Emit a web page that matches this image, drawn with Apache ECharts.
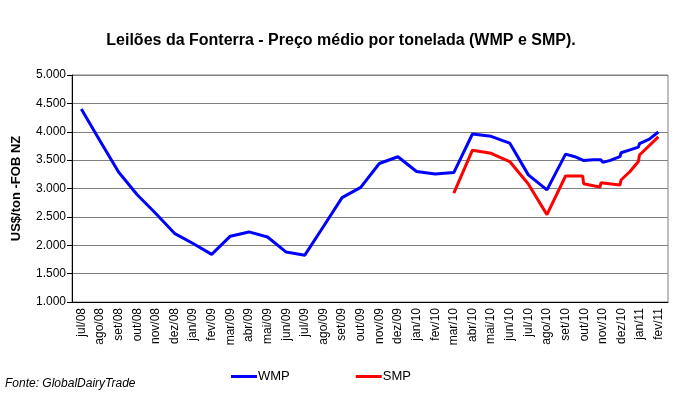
<!DOCTYPE html>
<html>
<head>
<meta charset="utf-8">
<script src="https://cdn.jsdelivr.net/npm/echarts@6/dist/echarts.min.js"></script>
<style>
    html, body { margin: 0; padding: 0; background: #fff; }
    #chart { width: 682px; height: 398px; }
</style>
</head>
<body>
<div id="chart"></div>
<script>
// Month labels (category axis)
var months = ['jul/08', 'ago/08', 'set/08', 'out/08', 'nov/08', 'dez/08',
    'jan/09', 'fev/09', 'mar/09', 'abr/09', 'mai/09', 'jun/09', 'jul/09',
    'ago/09', 'set/09', 'out/09', 'nov/09', 'dez/09', 'jan/10', 'fev/10',
    'mar/10', 'abr/10', 'mai/10', 'jun/10', 'jul/10', 'ago/10', 'set/10',
    'out/10', 'nov/10', 'dez/10', 'jan/11', 'fev/11'];

// Auction time, in months since start of jul/08 (x.5 = middle of month)
var wmpTime = [0.5, 1.5, 2.5, 3.5, 4.5, 5.5, 6.5, 7.5, 8.5, 9.5, 10.5, 11.5,
    12.5, 13.5, 14.5, 15.5, 16.5, 17.5, 18.5, 19.5, 20.5, 21.5, 22.5, 23.5,
    24.5, 25.5, 26.5, 27.0, 27.45, 28.0, 28.4, 28.5, 28.9, 29.42, 29.48,
    29.96, 30.41, 30.47, 31.0, 31.48];
var wmpPrice = [4400, 3840, 3290, 2890, 2560, 2210, 2030, 1840, 2160, 2235,
    2145, 1880, 1825, 2330, 2840, 3020, 3440, 3560, 3300, 3255, 3280, 3960,
    3920, 3800, 3240, 2975, 3605, 3560, 3495, 3505, 3505, 3460, 3495, 3560,
    3630, 3680, 3730, 3790, 3870, 3995];

var smpTime = [20.5, 21.5, 22.5, 23.5, 24.5, 25.5, 26.5, 27.42, 27.47, 27.99,
    28.35, 28.4, 29.42, 29.48, 29.96, 30.41, 30.47, 31.48];
var smpPrice = [2920, 3675, 3620, 3475, 3080, 2540, 3220, 3220, 3085, 3050,
    3025, 3100, 3060, 3150, 3300, 3475, 3590, 3910];

var yTicks = { min: 1000, max: 5000, step: 500 };

function pairs(t, v) {
    var out = [];
    for (var i = 0; i < t.length; i++) {
        out.push([t[i], v[i]]);
    }
    return out;
}

var font = '"Liberation Sans", Arial, sans-serif';
var chart = echarts.init(document.getElementById('chart'));

chart.setOption({
    animation: false,
    textStyle: { fontFamily: font },
    title: {
        text: 'Leilões da Fonterra - Preço médio por tonelada (WMP e SMP).',
        left: 'center',
        top: 28,
        textStyle: { fontSize: 16, fontWeight: 'bold', color: '#000', fontFamily: font }
    },
    grid: {
        left: 72, right: 14, top: 75, bottom: 96,
        show: true,
        borderColor: '#808080',
        borderWidth: 1
    },
    legend: {
        left: 226,
        top: 365,
        itemGap: 66,
        itemWidth: 26,
        itemHeight: 3,
        icon: 'rect',
        textStyle: { fontSize: 13, color: '#000', padding: [0, 0, 0, -4] },
        data: ['WMP', 'SMP']
    },
    graphic: [{
        type: 'text',
        left: 5,
        top: 378,
        style: {
            text: 'Fonte: GlobalDairyTrade',
            font: 'italic 12px ' + font,
            fill: '#000'
        }
    }],
    xAxis: [{
        type: 'category',
        data: months,
        boundaryGap: true,
        axisLine: { lineStyle: { color: '#000', width: 1 } },
        axisTick: { length: 5, lineStyle: { color: '#000' } },
        axisLabel: { rotate: 90, fontSize: 12, color: '#000', margin: 6, interval: 0 },
        splitLine: { show: false }
    }, {
        type: 'value',
        min: 0,
        max: months.length,
        show: false
    }],
    yAxis: {
        type: 'value',
        min: yTicks.min,
        max: yTicks.max,
        interval: yTicks.step,
        name: 'US$/ton -FOB NZ',
        nameLocation: 'middle',
        nameGap: 49,
        nameTextStyle: { fontSize: 13, fontWeight: 'bold', color: '#000' },
        axisLine: { show: true, lineStyle: { color: '#000' } },
        axisTick: { show: true, length: 5, lineStyle: { color: '#000' } },
        axisLabel: {
            fontSize: 12, color: '#000', margin: 6,
            formatter: function (v) { return (v / 1000).toFixed(3); }
        },
        splitLine: { lineStyle: { color: '#808080', width: 1 } }
    },
    series: [{
        name: 'WMP',
        type: 'line',
        xAxisIndex: 1,
        showSymbol: false,
        color: '#0000ff',
        lineStyle: { width: 3, color: '#0000ff' },
        data: pairs(wmpTime, wmpPrice)
    }, {
        name: 'SMP',
        type: 'line',
        xAxisIndex: 1,
        showSymbol: false,
        color: '#ff0000',
        lineStyle: { width: 3, color: '#ff0000' },
        data: pairs(smpTime, smpPrice)
    }]
});
</script>
</body>
</html>
